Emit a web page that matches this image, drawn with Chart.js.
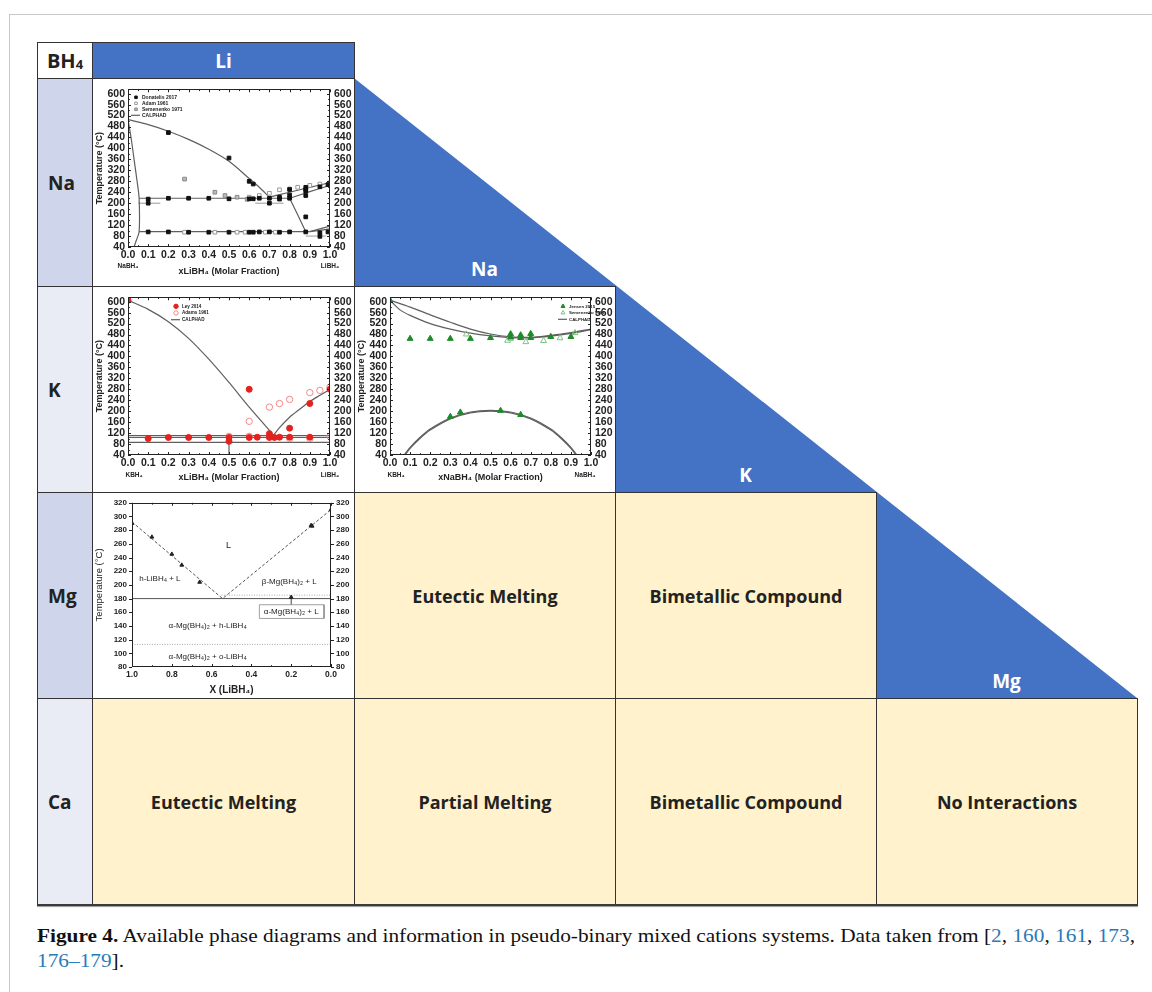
<!DOCTYPE html>
<html>
<head>
<meta charset="utf-8">
<script src="https://cdn.jsdelivr.net/npm/chart.js@4.4.1/dist/chart.umd.min.js"></script>
<style>
  html, body { margin: 0; padding: 0; background: #fff; }
  body { width: 1152px; height: 992px; overflow: hidden; position: relative; font-family: "Open Sans", sans-serif; }
  .abs { position: absolute; box-sizing: border-box; }
  .cell { border: 1px solid #333; display: flex; align-items: center; justify-content: center;
          font-weight: bold; font-size: 18px; color: #222; }
  .lab { font-size: 19px; }
  .white { color: #fff; }
  canvas { position: absolute; left: 0; top: 0; }
  #caption { position: absolute; left: 37px; top: 923px; font-family: "Liberation Serif", serif;
             font-size: 19.5px; line-height: 25px; color: #111; white-space: nowrap; }
  #caption span.l { display: inline-block; transform-origin: 0 0; }
  #caption a { color: #2a7ab8; text-decoration: none; }
</style>
</head>
<body>
<div id="page"></div>
<div id="caption">
  <span class="l" id="cap1"><b>Figure 4.</b> Available phase diagrams and information in pseudo-binary mixed cations systems. Data taken from [<a>2</a>, <a>160</a>, <a>161</a>, <a>173</a>,</span><br>
  <span class="l" id="cap2"><a>176–179</a>].</span>
</div>
<script>
// ---------- data ----------
const columnCations = ['Li', 'Na', 'K', 'Mg'];
const rowCations = ['Na', 'K', 'Mg', 'Ca'];
const cellTexts = {
  'Mg-Na': 'Eutectic Melting', 'Mg-K': 'Bimetallic Compound',
  'Ca-Li': 'Eutectic Melting', 'Ca-Na': 'Partial Melting',
  'Ca-K': 'Bimetallic Compound', 'Ca-Mg': 'No Interactions'
};

const molarTicks = [0, 0.1, 0.2, 0.3, 0.4, 0.5, 0.6, 0.7, 0.8, 0.9, 1.0];
const tempTicks = [40, 80, 120, 160, 200, 240, 280, 320, 360, 400, 440, 480, 520, 560, 600];
const mgMolarTicks = [1.0, 0.8, 0.6, 0.4, 0.2, 0.0];
const mgTempTicks = [80, 100, 120, 140, 160, 180, 200, 220, 240, 260, 280, 300, 320];

// NaBH4 - LiBH4  [x LiBH4, T °C]
const naLiLegend = ['Donatelis 2017', 'Adam 1961', 'Semenenko 1971', 'CALPHAD'];
const naLiDonatelis = [
  [0.1, 215], [0.1, 200], [0.1, 95], [0.2, 458], [0.2, 218], [0.2, 95], [0.3, 218], [0.3, 94],
  [0.4, 218], [0.4, 94], [0.5, 365], [0.5, 216], [0.5, 94], [0.6, 280], [0.6, 216], [0.6, 94],
  [0.62, 270], [0.62, 216], [0.62, 94], [0.65, 218], [0.65, 95], [0.7, 218], [0.7, 200], [0.7, 95],
  [0.75, 222], [0.75, 215], [0.75, 94], [0.8, 250], [0.8, 230], [0.8, 218], [0.8, 95],
  [0.88, 258], [0.88, 250], [0.88, 244], [0.88, 228], [0.88, 150], [0.88, 95],
  [0.95, 260], [0.95, 92], [0.95, 79], [0.99, 268], [0.99, 95]
];
const naLiAdams = [
  [0.6, 222], [0.65, 228], [0.7, 236], [0.75, 249], [0.8, 252], [0.84, 258], [0.9, 265], [0.95, 270], [1.0, 275],
  [0.28, 94], [0.43, 94], [0.54, 94], [0.58, 94], [0.68, 94], [0.73, 94]
];
const naLiSemenenko = [[0.28, 288], [0.43, 240], [0.48, 228], [0.54, 222], [0.59, 214]];
const naLiCalphad = [
  [[0, 505], [0.1, 487], [0.2, 463], [0.3, 433], [0.4, 397], [0.5, 353], [0.6, 290], [0.65, 258], [0.7, 222]],
  [[0.7, 222], [0.8, 240], [0.9, 258], [1.0, 275]],
  [[0.8, 218], [0.9, 242], [1.0, 265]],
  [[0.055, 218], [0.8, 218]],
  [[0.055, 96], [0.9, 96]],
  [[0, 505], [0.015, 440], [0.03, 360], [0.045, 280], [0.055, 218], [0.055, 96], [0.04, 62], [0.03, 40]],
  [[0.8, 218], [0.84, 158], [0.88, 96]],
  [[0.9, 96], [1.0, 116]],
  [[0.9, 96], [1.0, 106]]
];
const naLiErrorBars = [[[0.05, 200], [0.16, 200]], [[0.63, 200], [0.77, 200]], [[0.88, 80], [0.98, 80]]];

// KBH4 - LiBH4
const kLiLegend = ['Ley 2014', 'Adams 1961', 'CALPHAD'];
const kLiLey = [
  [0, 605], [0.1, 100], [0.2, 104], [0.3, 104], [0.4, 104], [0.5, 104], [0.5, 90], [0.6, 280], [0.6, 104],
  [0.64, 105], [0.7, 118], [0.7, 104], [0.725, 104], [0.75, 105], [0.8, 138], [0.8, 105], [0.9, 228], [0.9, 105], [1.0, 280]
];
const kLiAdams = [
  [0.5, 108], [0.6, 163], [0.6, 108], [0.7, 215], [0.75, 228], [0.8, 243], [0.8, 100],
  [0.9, 268], [0.9, 100], [0.95, 276], [1.0, 288], [1.0, 108]
];
const kLiCalphad = [
  [[0, 605], [0.1, 572], [0.2, 527], [0.3, 466], [0.4, 390], [0.5, 305], [0.6, 215], [0.7, 130], [0.72, 112]],
  [[0.72, 112], [0.75, 140], [0.8, 178], [0.85, 207], [0.9, 235], [0.95, 258], [1.0, 280]],
  [[0, 111], [1.0, 111]],
  [[0, 104], [1.0, 104]],
  [[0, 86], [1.0, 86]],
  [[0.5, 40], [0.5, 86]]
];

// KBH4 - NaBH4
const kNaLegend = ['Jensen 2015', 'Semenenko 1991', 'CALPHAD'];
const kNaJensen = [
  [0, 605], [0.1, 465], [0.2, 465], [0.3, 465], [0.4, 465], [0.5, 468], [0.6, 482], [0.6, 470], [0.65, 478],
  [0.65, 468], [0.7, 483], [0.7, 468], [0.8, 472], [0.9, 472], [0.3, 180], [0.35, 196], [0.55, 202], [0.65, 187]
];
const kNaSemenenko = [[0.38, 481], [0.585, 458], [0.6, 465], [0.676, 453], [0.764, 457], [0.846, 467], [0.92, 486]];
const kNaCalphad = [
  [[0, 605], [0.1, 580], [0.2, 552], [0.3, 525], [0.4, 500], [0.5, 482], [0.6, 472], [0.7, 470], [0.8, 477], [0.9, 487], [1.0, 500]],
  [[0, 605], [0.05, 570], [0.1, 550], [0.2, 520], [0.3, 500], [0.4, 485], [0.5, 475], [0.6, 469], [0.7, 468], [0.8, 474], [0.9, 484], [1.0, 498]],
  [[0.07, 40], [0.1, 68], [0.15, 105], [0.2, 135], [0.3, 175], [0.4, 197], [0.5, 203], [0.6, 197], [0.7, 175], [0.8, 135], [0.85, 105], [0.9, 68], [0.93, 40]],
  [[0.075, 40], [0.1, 64], [0.15, 101], [0.2, 131], [0.3, 172], [0.4, 194], [0.5, 200], [0.6, 194], [0.7, 172], [0.8, 131], [0.85, 101], [0.9, 64], [0.925, 40]]
];

// Mg(BH4)2 - LiBH4  [X LiBH4, T °C]
const mgLiPoints = [[1.0, 290], [0.9, 270], [0.8, 245], [0.75, 229], [0.66, 204], [0.2, 182], [0.1, 287], [0.095, 286], [0.0, 310]];
const mgLiLiquidus = [[1.0, 292], [0.545, 180], [0.0, 310]];
const mgLiEutectic = [[1.0, 180], [0.0, 180]];
const mgLiBetaAlpha = [[0.55, 185], [0.0, 185]];
const mgLiOrthoHex = [[1.0, 113], [0.0, 113]];
const mgLiBox = [[0.36, 171], [0.035, 171], [0.035, 151], [0.36, 151], [0.36, 171]];
const mgLiArrow = [[0.2, 171], [0.2, 181]];
const mgLiRegions = [
  { x: 0.515, y: 257, text: 'L' },
  { x: 0.86, y: 209, text: 'h-LiBH₄ + L' },
  { x: 0.21, y: 204, text: 'β-Mg(BH₄)₂ + L' },
  { x: 0.2, y: 161, text: 'α-Mg(BH₄)₂ + L' },
  { x: 0.62, y: 140, text: 'α-Mg(BH₄)₂ + h-LiBH₄' },
  { x: 0.62, y: 95, text: 'α-Mg(BH₄)₂ + o-LiBH₄' }
];

// ---------- table layout ----------
const colX = [92, 354, 615, 876, 1137];
const rowY = [78, 286, 492, 698, 905];
const page = document.getElementById('page');

function box(x, y, w, h, cls, style, html) {
  const d = document.createElement('div');
  d.className = 'abs ' + cls;
  Object.assign(d.style, { left: x + 'px', top: y + 'px', width: w + 'px', height: h + 'px' }, style);
  if (html) d.innerHTML = html;
  page.appendChild(d);
  return d;
}

// page frame
box(9, 14, 1143, 1, '', { background: '#c9c9c9' });
box(9, 14, 1, 978, '', { background: '#c9c9c9' });

// blue staircase with the diagonal
box(354, 78, 783, 620, '', {
  background: '#4472c4',
  clipPath: 'polygon(0 0, 783px 620px, 522px 620px, 522px 414px, 261px 414px, 261px 208px, 0 208px)'
});
columnCations.slice(1).forEach((c, i) => {
  box(colX[i + 1], rowY[i + 1] - 34, colX[i + 2] - colX[i + 1], 34, 'lab white',
      { display: 'flex', alignItems: 'center', justifyContent: 'center', fontWeight: 'bold', fontSize: '19px' }, c);
});

// header
box(37, 42, 56, 37, 'cell lab', { background: '#fff', fontSize: '20px' }, 'BH<sub style="font-size:13px;position:relative;top:3px;vertical-align:baseline">4</sub>');
box(92, 42, 263, 37, 'cell lab white', { background: '#4472c4' }, 'Li');

// row labels
const rowShades = ['#cfd5ea', '#e9ebf5', '#cfd5ea', '#e9ebf5'];
rowCations.forEach((r, i) => {
  box(37, rowY[i], 56, rowY[i + 1] - rowY[i] + 1, 'cell lab', { background: rowShades[i], justifyContent: 'flex-start', paddingLeft: '10px' }, r);
});

// body cells
const chartCells = {};
rowCations.forEach((r, i) => {
  columnCations.forEach((c, j) => {
    if (j > i) return;
    const key = r + '-' + c;
    const w = colX[j + 1] - colX[j] + 1, h = rowY[i + 1] - rowY[i] + 1;
    if (cellTexts[key]) {
      box(colX[j], rowY[i], w, h, 'cell', { background: '#fff2cc' }, cellTexts[key]);
    } else {
      const d = box(colX[j], rowY[i], w, h, 'cell', { background: '#fff' });
      const cv = document.createElement('canvas');
      cv.width = w - 2; cv.height = h - 2;
      d.appendChild(cv);
      chartCells[key] = cv;
    }
  });
});
box(37, 904, 1101, 2, '', { background: '#3a3a3a', boxShadow: '0 1px 1px #999' });

// ---------- chart plugins ----------
// frame around the plot with tick marks on all four sides (dirX/dirY: 1 inward, -1 outward)
const framePlugin = {
  id: 'frame',
  afterDatasetsDraw(chart, args, o) {
    const { ctx, chartArea: a, scales } = chart;
    const dx = o.dirX || 1, dy = o.dirY || 1, len = o.len || 3;
    const mids = v => v.slice(1).map((t, k) => (t + v[k]) / 2);
    ctx.save();
    ctx.strokeStyle = '#222';
    ctx.lineWidth = 1;
    ctx.strokeRect(Math.round(a.left) + 0.5, Math.round(a.top) + 0.5, Math.round(a.right - a.left) - 1, Math.round(a.bottom - a.top) - 1);
    ctx.beginPath();
    const xv = scales.x.ticks.map(t => t.value), yv = scales.y.ticks.map(t => t.value);
    const xMark = (vals, l) => vals.forEach(v => {
      const p = Math.round(scales.x.getPixelForValue(v)) + 0.5;
      ctx.moveTo(p, a.bottom); ctx.lineTo(p, a.bottom - dx * l);
      ctx.moveTo(p, a.top); ctx.lineTo(p, a.top + dx * l);
    });
    const yMark = (vals, l) => vals.forEach(v => {
      const p = Math.round(scales.y.getPixelForValue(v)) + 0.5;
      ctx.moveTo(a.left, p); ctx.lineTo(a.left + dy * l, p);
      ctx.moveTo(a.right, p); ctx.lineTo(a.right - dy * l, p);
    });
    xMark(xv, len); yMark(yv, len);
    if (o.minorX) xMark(mids(xv), len * 0.6);
    if (o.minorY) yMark(mids(yv), len * 0.6);
    ctx.stroke();
    ctx.restore();
  }
};

const notesPlugin = {
  id: 'notes',
  afterDatasetsDraw(chart, args, o) {
    if (!o.items) return;
    const { ctx, chartArea: a, scales } = chart;
    ctx.save();
    ctx.textBaseline = 'middle';
    o.items.forEach(it => {
      const x = scales.x.getPixelForValue(it.x);
      const y = it.below != null ? a.bottom + it.below : scales.y.getPixelForValue(it.y);
      ctx.font = it.font || o.font;
      ctx.fillStyle = o.color || '#222';
      ctx.textAlign = it.align || 'center';
      ctx.fillText(it.text, x, y);
    });
    ctx.restore();
  }
};

const insetLegendPlugin = {
  id: 'insetLegend',
  afterDatasetsDraw(chart, args, o) {
    if (!o.labels) return;
    const { ctx, chartArea: a } = chart;
    ctx.save();
    ctx.font = o.font;
    ctx.textBaseline = 'middle';
    ctx.textAlign = 'left';
    o.labels.forEach((text, i) => {
      const ds = chart.data.datasets[i];
      const x = a.left + o.left, y = a.top + o.top + i * o.step;
      ctx.strokeStyle = ds.borderColor;
      ctx.fillStyle = ds.backgroundColor;
      ctx.lineWidth = ds.borderWidth || 1;
      if (ds.showLine) {
        ctx.beginPath(); ctx.moveTo(x - 5, y); ctx.lineTo(x + 4, y); ctx.stroke();
      } else {
        Chart.helpers.drawPoint(ctx, { pointStyle: ds.pointStyle, radius: o.radius, rotation: 0, borderWidth: ds.borderWidth || 1 }, x, y);
      }
      ctx.fillStyle = '#222';
      ctx.fillText(text, x + o.gap, y);
    });
    ctx.restore();
  }
};
Chart.register(framePlugin, notesPlugin, insetLegendPlugin);

// ---------- chart helpers ----------
const pts = arr => arr.map(([x, y]) => ({ x, y }));
const marks = (label, data, style) => Object.assign({ label, data: pts(data), showLine: false, pointHoverRadius: 0 }, style);
const curve = (data, color, width, dash, tension) => ({
  label: 'CALPHAD', data: pts(data), showLine: true, pointRadius: 0, borderColor: color,
  backgroundColor: color, borderWidth: width, borderDash: dash || [], tension: tension || 0, fill: false
});

function phaseScales(p) {
  const yAxis = (pos, w, title, pad) => ({
    type: 'linear', position: pos, min: p.yMin, max: p.yMax,
    afterBuildTicks: s => { s.ticks = p.yTicks.map(v => ({ value: v })); },
    afterFit: s => { s.width = w; },
    grid: { display: false, drawTicks: false, tickLength: 0 }, border: { display: false },
    ticks: { font: p.yTickFont || p.tickFont, color: '#222', padding: pad, autoSkip: false },
    title: { display: !!title, text: title, font: p.yTitleFont || p.titleFont, color: '#222', padding: { top: 1, bottom: 0 } }
  });
  return {
    x: {
      type: 'linear', min: 0, max: 1, reverse: !!p.reverse,
      afterBuildTicks: s => { s.ticks = p.xTicks.map(v => ({ value: v })); },
      afterFit: s => { s.height = p.bottomH; },
      grid: { display: false, drawTicks: false, tickLength: 0 }, border: { display: false },
      ticks: { font: p.tickFont, color: '#222', padding: p.xPad, maxRotation: 0, autoSkip: false, callback: v => v.toFixed(1) },
      title: { display: true, text: p.xTitle, font: p.titleFont, color: '#222', padding: { top: 0, bottom: p.titleBottom } }
    },
    y: yAxis('left', p.leftW, 'Temperature (°C)', p.yPad),
    y2: yAxis('right', p.rightW, '', p.y2Pad)
  };
}

function phaseChart(canvas, datasets, p, plugins) {
  return new Chart(canvas.getContext('2d'), {
    type: 'scatter',
    data: { datasets },
    options: {
      responsive: false, animation: false, events: [],
      layout: { padding: { top: p.top, left: 0, right: 0, bottom: 0 } },
      scales: phaseScales(p),
      plugins: Object.assign({ legend: { display: false }, tooltip: { enabled: false } }, plugins)
    }
  });
}

const liTick = { family: 'Liberation Sans', size: 10.5, weight: 'bold' };
const liTitle = { family: 'Liberation Sans', size: 9, weight: 'bold' };
const endFont = 'bold 6.5px "Liberation Sans"';
const liAxes = (xTitle, top, bottomH) => ({
  xTicks: molarTicks, yTicks: tempTicks, yMin: 40, yMax: 616, top, leftW: 35, rightW: 24, bottomH,
  xPad: 2, yPad: 3, y2Pad: 4, titleBottom: 9, tickFont: liTick, titleFont: liTitle, xTitle
});
const grey = '#5f5f5f';

// NaBH4-LiBH4
phaseChart(chartCells['Na-Li'], [
  marks('Donatelis 2017', naLiDonatelis, { pointStyle: 'rect', radius: 2.6, backgroundColor: '#111', borderColor: '#111', borderWidth: 1 }),
  marks('Adam 1961', naLiAdams, { pointStyle: 'rect', radius: 2.6, backgroundColor: '#fff', borderColor: '#999', borderWidth: 1 }),
  marks('Semenenko 1971', naLiSemenenko, { pointStyle: 'rect', radius: 2.6, backgroundColor: '#bbb', borderColor: '#888', borderWidth: 1 }),
  ...naLiCalphad.map(c => curve(c, grey, 1.2, [], 0.3)),
  ...naLiErrorBars.map(c => curve(c, '#999', 1))
], liAxes('xLiBH₄ (Molar Fraction)', 5, 39), {
  frame: { len: 3, minorX: true, minorY: true },
  insetLegend: { labels: naLiLegend, left: 8, top: 8, step: 6, radius: 1.8, gap: 6, font: 'bold 5px "Liberation Sans"' },
  notes: { items: [
    { x: 0, below: 19, text: 'NaBH₄', font: endFont },
    { x: 1, below: 19, text: 'LiBH₄', font: endFont }
  ] }
});

// KBH4-LiBH4
phaseChart(chartCells['K-Li'], [
  marks('Ley 2014', kLiLey, { pointStyle: 'circle', radius: 3, backgroundColor: '#e3211d', borderColor: '#e3211d', borderWidth: 1 }),
  marks('Adams 1961', kLiAdams, { pointStyle: 'circle', radius: 3.2, backgroundColor: 'rgba(255,255,255,0)', borderColor: '#f08a88', borderWidth: 1 }),
  ...kLiCalphad.map(c => curve(c, grey, 1.2, [], 0.3))
], liAxes('xLiBH₄ (Molar Fraction)', 4, 37), {
  frame: { len: 3, minorX: true, minorY: true },
  insetLegend: { labels: kLiLegend, left: 48, top: 9, step: 6.7, radius: 2.2, gap: 6, font: 'bold 4.6px "Liberation Sans"' },
  notes: { items: [
    { x: 0.03, below: 20, text: 'KBH₄', font: endFont },
    { x: 1, below: 20, text: 'LiBH₄', font: endFont }
  ] }
});

// KBH4-NaBH4
phaseChart(chartCells['K-Na'], [
  marks('Jensen 2015', kNaJensen, { pointStyle: 'triangle', radius: 3.4, backgroundColor: '#1d8b28', borderColor: '#1d8b28', borderWidth: 1 }),
  marks('Semenenko 1991', kNaSemenenko, { pointStyle: 'triangle', radius: 3.4, backgroundColor: 'rgba(255,255,255,0)', borderColor: '#7cc482', borderWidth: 1 }),
  ...kNaCalphad.map(c => curve(c, grey, 1.2, [], 0.3))
], liAxes('xNaBH₄ (Molar Fraction)', 4, 37), {
  frame: { len: 3, minorX: true, minorY: true },
  insetLegend: { labels: kNaLegend, left: 173, top: 9, step: 6.5, radius: 2.3, gap: 6, font: 'bold 4.4px "Liberation Sans"' },
  notes: { items: [
    { x: 0.03, below: 20, text: 'KBH₄', font: endFont },
    { x: 0.97, below: 20, text: 'NaBH₄', font: endFont }
  ] }
});

// Mg(BH4)2-LiBH4
phaseChart(chartCells['Mg-Li'], [
  marks('data', mgLiPoints, { pointStyle: 'triangle', radius: 2.2, backgroundColor: '#222', borderColor: '#222', borderWidth: 1 }),
  curve(mgLiLiquidus, '#555', 1, [3, 2]),
  curve(mgLiEutectic, '#555', 1),
  curve(mgLiBetaAlpha, '#aaa', 1, [1, 1.5]),
  curve(mgLiOrthoHex, '#aaa', 1, [1, 1.5]),
  curve(mgLiBox, '#888', 0.8),
  curve(mgLiArrow, '#444', 1)
], {
  xTicks: mgMolarTicks, yTicks: mgTempTicks, yMin: 80, yMax: 320, reverse: true, top: 5,
  leftW: 39, rightW: 23, bottomH: 31, xPad: 3, yPad: 5, y2Pad: 5, titleBottom: 2,
  tickFont: { family: 'Liberation Sans', size: 8.5, weight: 'bold' },
  yTickFont: { family: 'Liberation Sans', size: 8, weight: 'bold' },
  titleFont: { family: 'Liberation Sans', size: 10, weight: 'bold' },
  yTitleFont: { family: 'Liberation Sans', size: 9.5 },
  xTitle: 'X (LiBH₄)'
}, {
  frame: { dirX: 1, dirY: -1, len: 3, minorX: true },
  notes: { font: '8px "Liberation Sans"', color: '#222', items: mgLiRegions.map(r => Object.assign({}, r, r.text === 'L' ? { font: '9px "Liberation Sans"' } : {})) }
});

// caption width matched to the column
const cap1 = document.getElementById('cap1'), cap2 = document.getElementById('cap2');
const k = 1098 / cap1.getBoundingClientRect().width;
cap1.style.transform = cap2.style.transform = 'scaleX(' + k + ')';
</script>
</body>
</html>
